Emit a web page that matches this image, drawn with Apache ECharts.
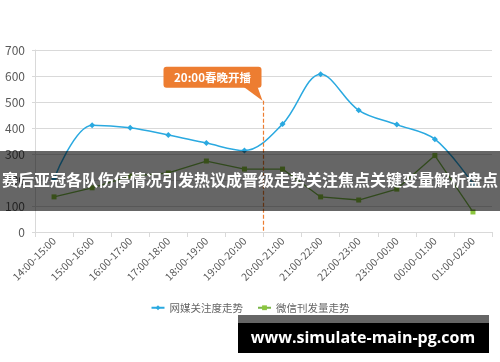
<!DOCTYPE html>
<html><head><meta charset="utf-8">
<script src="https://cdn.jsdelivr.net/npm/echarts@6/dist/echarts.min.js"></script>
<style>html,body{margin:0;padding:0;background:#fff}#c{width:500px;height:362px}</style>
</head><body><div id="c"></div>
<script>
const categories = ['14:00-15:00','15:00-16:00','16:00-17:00','17:00-18:00','18:00-19:00','19:00-20:00','20:00-21:00','21:00-22:00','22:00-23:00','23:00-00:00','00:00-01:00','01:00-02:00'];
const mediaAttention = [205, 411, 401, 373, 342, 313, 415, 607, 468, 413, 357, 185];
const wechatPosts = [135, 170, 215, 227, 273, 242, 242, 135, 123, 165, 294, 77];
const seriesNames = ['网媒关注度走势', '微信刊发量走势'];
const yTicks = [0, 100, 200, 300, 400, 500, 600, 700];
const annotationText = '20:00春晚开播';
const annotationPos = 6;      // boundary between 19:00-20:00 and 20:00-21:00 (in category units)
const annotationTop = 505;
const bannerText = '赛后亚冠各队伤停情况引发热议成晋级走势关注焦点关键变量解析盘点';
const watermarkText = 'www.simulate-main-pg.com';

const FONT = '"Noto Sans CJK SC", "Noto Sans", sans-serif';
const chart = echarts.init(document.getElementById('c'), null, {renderer: 'canvas'});
const orange = '#ed7d31';
chart.setOption({
  animation: false,
  textStyle: {fontFamily: FONT},
  grid: {left: 35, right: 8, top: 50, bottom: 130},
  legend: {
    bottom: 44, left: 'center', itemGap: 14, itemWidth: 13, itemHeight: 6,
    textStyle: {fontSize: 10.5, color: '#666', fontFamily: FONT},
    data: seriesNames
  },
  xAxis: [{
    type: 'category', data: categories, boundaryGap: true,
    axisLine: {lineStyle: {color: '#d9d9d9'}},
    axisTick: {show: true, length: 5, lineStyle: {color: '#d9d9d9'}},
    axisLabel: {rotate: 45, fontSize: 10.5, color: '#595959', margin: 7, interval: 0, fontFamily: FONT}
  }, {
    type: 'value', min: 0, max: categories.length, show: false
  }],
  yAxis: {
    type: 'value', min: yTicks[0], max: yTicks[yTicks.length - 1], interval: 100,
    axisLine: {show: true, lineStyle: {color: '#d9d9d9'}},
    axisTick: {show: true, length: 3, lineStyle: {color: '#d9d9d9'}},
    axisLabel: {fontSize: 12, color: '#595959', margin: 10, fontFamily: FONT},
    splitLine: {lineStyle: {color: '#d9d9d9'}}
  },
  series: [{
    name: seriesNames[0], type: 'line', data: mediaAttention, smooth: 0.35,
    symbol: 'diamond', symbolSize: 6,
    itemStyle: {color: '#2aa9e0'}, lineStyle: {width: 1.5, color: '#2aa9e0'}
  }, {
    name: seriesNames[1], type: 'line', data: wechatPosts, smooth: false,
    symbol: 'rect', symbolSize: 5,
    itemStyle: {color: '#8cc63f'}, lineStyle: {width: 1.3, color: '#7ab648'}
  }, {
    name: 'marker', type: 'line', xAxisIndex: 1, yAxisIndex: 0,
    data: [[annotationPos, 0]], symbol: 'none', showSymbol: false, silent: true,
    itemStyle: {color: orange}, lineStyle: {color: orange},
    markLine: {
      symbol: ['none', 'none'], silent: true, label: {show: false},
      lineStyle: {color: orange, type: [4, 2], width: 1.2, opacity: 1},
      emphasis: {disabled: true},
      data: [[{coord: [annotationPos, annotationTop]}, {coord: [annotationPos, 0]}]]
    }
  }]
});

const p = chart.convertToPixel({xAxisIndex: 1, yAxisIndex: 0}, [annotationPos, annotationTop]);
chart.setOption({
  graphic: [
    {
      type: 'group', x: p[0], y: p[1], z: 50,
      children: [
        {type: 'polygon', shape: {points: [[-20, -14], [-6, -14], [-1, 0]]}, style: {fill: orange}},
        {type: 'rect', shape: {x: -100, y: -34, width: 98, height: 21, r: 3}, style: {fill: orange}},
        {type: 'text', x: -51, y: -23.5, style: {text: annotationText, fill: '#fff', font: 'bold 11.5px ' + FONT, align: 'center', verticalAlign: 'middle'}}
      ]
    },
    {type: 'rect', left: 0, top: 151, shape: {width: 500, height: 60}, style: {fill: 'rgba(0,0,0,0.6)'}, z: 100},
    {type: 'text', left: 'center', top: 172, style: {text: bannerText, fill: '#fff', font: 'bold 16px ' + FONT}, z: 101},
    {type: 'rect', left: 238, top: 315, shape: {width: 251, height: 8}, style: {fill: '#666'}, z: 100},
    {type: 'rect', left: 238, top: 323, shape: {width: 251, height: 30}, style: {fill: '#000'}, z: 100},
    {type: 'text', x: 363, y: 338, style: {text: watermarkText, fill: '#fff', font: 'bold 16px "Open Sans", sans-serif', align: 'center', verticalAlign: 'middle'}, z: 101}
  ]
});
</script></body></html>
